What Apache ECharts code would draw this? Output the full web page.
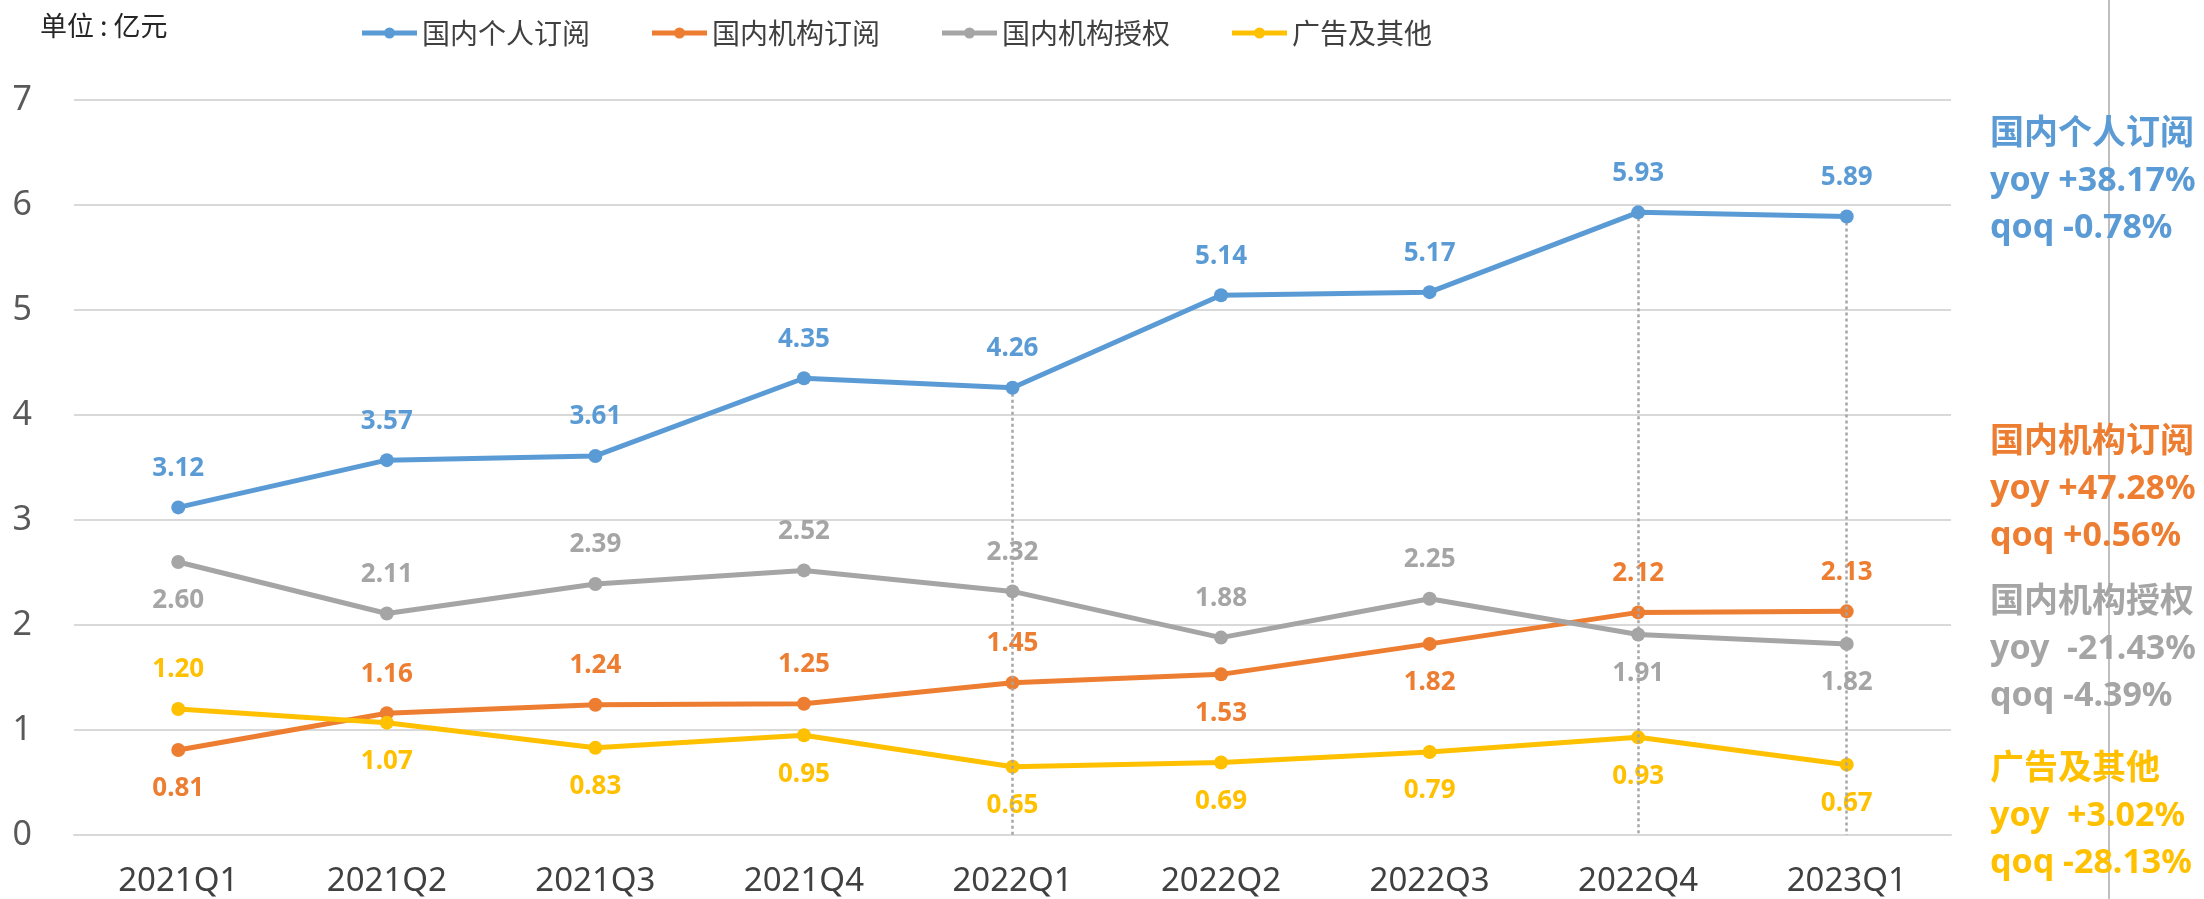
<!DOCTYPE html>
<html>
<head>
<meta charset="utf-8">
<script src="https://cdn.jsdelivr.net/npm/echarts@6/dist/echarts.min.js"></script>
<style>
  html, body { margin: 0; padding: 0; background: #fff; }
</style>
</head>
<body>
<div id="chart" style="width: 2204px; height: 899px;"></div>
<script>
// 季度
var quarters = ['2021Q1', '2021Q2', '2021Q3', '2021Q4', '2022Q1', '2022Q2', '2022Q3', '2022Q4', '2023Q1']

// 各项收入（亿元）
var personalSub = [3.12, 3.57, 3.61, 4.35, 4.26, 5.14, 5.17, 5.93, 5.89]
var orgSub = [0.81, 1.16, 1.24, 1.25, 1.45, 1.53, 1.82, 2.12, 2.13]
var orgLicense = [2.60, 2.11, 2.39, 2.52, 2.32, 1.88, 2.25, 1.91, 1.82]
var adsOther = [1.20, 1.07, 0.83, 0.95, 0.65, 0.69, 0.79, 0.93, 0.67]

// 数据标签位置
var personalPos = ['top', 'top', 'top', 'top', 'top', 'top', 'top', 'top', 'top']
var orgSubPos = ['bottom', 'top', 'top', 'top', 'top', 'bottom', 'bottom', 'top', 'top']
var orgLicPos = ['bottom', 'top', 'top', 'top', 'top', 'top', 'top', 'bottom', 'bottom']
var adsPos = ['top', 'bottom', 'bottom', 'bottom', 'bottom', 'bottom', 'bottom', 'bottom', 'bottom']

// 虚线标注的季度
var dropQuarters = ['2022Q1', '2022Q4', '2023Q1']

// 右侧同比 / 环比说明
var seriesNames = ['国内个人订阅', '国内机构订阅', '国内机构授权', '广告及其他']
var yoyText = ['yoy +38.17%', 'yoy +47.28%', 'yoy  -21.43%', 'yoy  +3.02%']
var qoqText = ['qoq -0.78%', 'qoq +0.56%', 'qoq -4.39%', 'qoq -28.13%']

var colors = ['#5B9BD5', '#ED7D31', '#A5A5A5', '#FFC000']
var annoTop = [111, 419, 579, 746]

// 图例图标：粗线 + 圆点
var legendIcon = 'path://M0,3H55V8H0Z M22,5.5a5.5,5.5 0 1,1 11,0a5.5,5.5 0 1,1 -11,0Z'

var myChart = echarts.init(document.getElementById('chart'))

function makeSeries (name, values, positions, color, extra) {
  var s = {
    name: name,
    type: 'line',
    symbol: 'circle',
    symbolSize: 14,
    lineStyle: { width: 5, color: color },
    itemStyle: { color: color },
    data: values.map(function (v, i) {
      return { value: v, label: { position: positions[i] } }
    }),
    label: {
      show: true,
      distance: 19,
      color: color,
      fontSize: 26,
      fontWeight: 'bold',
      fontFamily: 'Noto Sans',
      formatter: function (p) { return p.value.toFixed(2) }
    }
  }
  if (extra) Object.assign(s, extra)
  return s
}

var annoGraphics = seriesNames.map(function (n, i) {
  return {
    type: 'text',
    left: 1990,
    top: annoTop[i],
    style: {
      text: n + '\n' + yoyText[i] + '\n' + qoqText[i],
      fill: colors[i],
      font: 'bold 34px "Noto Sans", "Noto Sans CJK SC"',
      lineHeight: 47
    }
  }
})

myChart.setOption({
  backgroundColor: '#fff',
  animation: false,
  color: colors,
  grid: { left: 74, right: 253, top: 100, bottom: 64 },
  legend: {
    left: 357,
    top: 14,
    icon: legendIcon,
    itemWidth: 55,
    itemHeight: 11,
    itemGap: 62,
    itemStyle: { borderWidth: 0 },
    textStyle: { fontSize: 28, color: '#404040', fontFamily: 'Noto Sans CJK SC' },
    data: seriesNames
  },
  xAxis: {
    type: 'category',
    data: quarters,
    axisTick: { show: false },
    axisLine: { lineStyle: { color: '#D9D9D9', width: 2 } },
    axisLabel: { margin: 30, fontSize: 33, color: '#404040', fontFamily: 'Noto Sans' }
  },
  yAxis: {
    type: 'value',
    min: 0,
    max: 7,
    interval: 1,
    axisLine: { show: false },
    axisTick: { show: false },
    splitLine: { lineStyle: { color: '#D9D9D9', width: 2 } },
    axisLabel: { margin: 42, fontSize: 34, color: '#595959', fontFamily: 'Noto Sans' }
  },
  graphic: [
    {
      type: 'text',
      left: 40,
      top: 12,
      style: { text: '单位 : 亿元', fill: '#262626', font: '27px "Noto Sans CJK SC"' }
    },
    {
      type: 'line',
      shape: { x1: 2109, y1: 0, x2: 2109, y2: 899 },
      style: { stroke: '#BFBFBF', lineWidth: 2 }
    }
  ].concat(annoGraphics),
  series: [
    makeSeries(seriesNames[0], personalSub, personalPos, colors[0], {
      z: 5,
      markLine: {
        silent: true,
        symbol: 'none',
        label: { show: false },
        lineStyle: { color: '#A6A6A6', type: [3, 3], width: 2.5 },
        data: dropQuarters.map(function (q) {
          var v = personalSub[quarters.indexOf(q)]
          return [{ coord: [q, v] }, { coord: [q, 0] }]
        })
      }
    }),
    makeSeries(seriesNames[1], orgSub, orgSubPos, colors[1]),
    makeSeries(seriesNames[2], orgLicense, orgLicPos, colors[2]),
    makeSeries(seriesNames[3], adsOther, adsPos, colors[3])
  ]
})
</script>
</body>
</html>
